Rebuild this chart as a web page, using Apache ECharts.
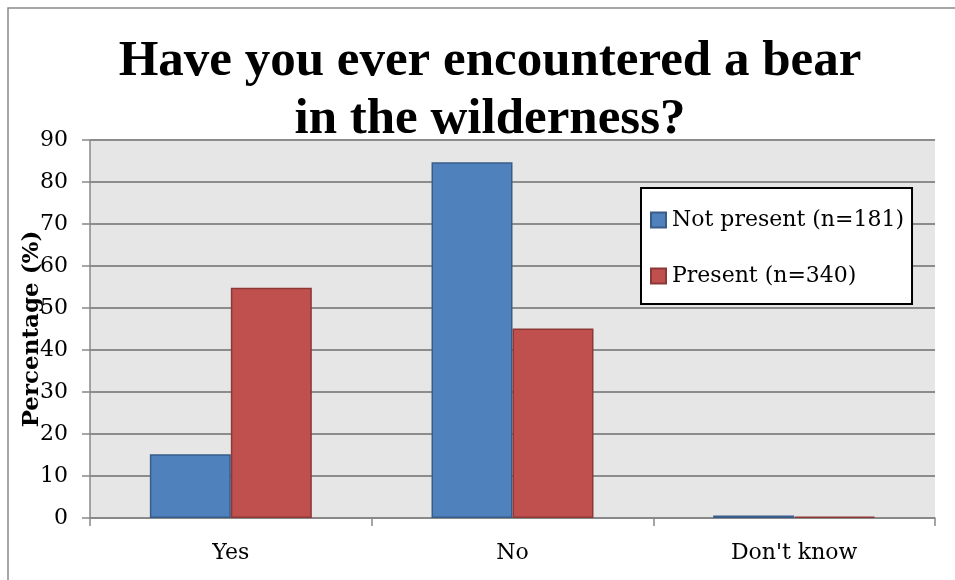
<!DOCTYPE html>
<html>
<head>
<meta charset="utf-8">
<script src="https://cdn.jsdelivr.net/npm/echarts@6/dist/echarts.min.js"></script>
<style>
  html, body { margin: 0; padding: 0; background: #fff; }
  #chart { width: 955px; height: 580px; }
</style>
</head>
<body>
<div id="chart"></div>
<script>
// answers and percentages per group
var answers = ['Yes', 'No', "Don't know"];
var notPresent = [15.2, 84.7, 0.6];   // Not present (n=181)
var present = [54.8, 45.1, 0.3];      // Present (n=340)
var yTicks = [0, 10, 20, 30, 40, 50, 60, 70, 80, 90];

var serif = '"DejaVu Serif", "Liberation Serif", serif';
var titleFont = '"Liberation Serif", serif';

var myChart = echarts.init(document.getElementById('chart'));

var option = {
    animation: false,
    backgroundColor: '#fff',
    title: {
        text: 'Have you ever encountered a bear\nin the wilderness?',
        left: 485,
        top: 28,
        textAlign: 'center',
        textStyle: {
            fontFamily: titleFont,
            fontWeight: 'bold',
            fontSize: 51,
            lineHeight: 58,
            color: '#000'
        }
    },
    graphic: [{
        type: 'rect',
        shape: { x: 8, y: 8, width: 1000, height: 700 },
        style: { fill: 'none', stroke: '#8a8a8a', lineWidth: 1.5 },
        silent: true
    }],
    legend: {
        orient: 'vertical',
        left: 641,
        top: 188,
        padding: [21, 8, 17, 9],
        itemGap: 34,
        itemWidth: 15,
        itemHeight: 15,
        icon: 'rect',
        borderColor: '#000',
        borderWidth: 2,
        borderRadius: 0,
        backgroundColor: '#fff',
        textStyle: { fontFamily: serif, fontSize: 22, color: '#000', padding: [0, 0, 0, 1] },
        data: ['Not present (n=181)', 'Present (n=340)']
    },
    grid: {
        left: 90,
        right: 20,
        top: 140,
        bottom: 62,
        show: true,
        backgroundColor: '#e6e6e6',
        borderWidth: 0
    },
    xAxis: {
        type: 'category',
        data: answers,
        axisLine: { lineStyle: { color: '#888', width: 1.5 } },
        axisTick: { show: true, length: 8, lineStyle: { color: '#888', width: 1.5 } },
        axisLabel: { fontFamily: serif, fontSize: 22, color: '#000', margin: 24 }
    },
    yAxis: {
        type: 'value',
        min: yTicks[0],
        max: yTicks[yTicks.length - 1],
        interval: 10,
        name: 'Percentage (%)',
        nameLocation: 'middle',
        nameGap: 46,
        nameMoveOverlap: false,
        nameTextStyle: { fontFamily: serif, fontSize: 23, fontWeight: 'bold', color: '#000' },
        axisLine: { show: true, lineStyle: { color: '#888', width: 1.5 } },
        axisTick: { show: true, length: 8, lineStyle: { color: '#888', width: 1.5 } },
        axisLabel: { fontFamily: serif, fontSize: 22, color: '#000', margin: 22 },
        splitLine: { lineStyle: { color: '#8c8c8c', width: 2 } }
    },
    series: [{
        name: 'Not present (n=181)',
        type: 'bar',
        data: notPresent,
        barGap: '0%',
        barCategoryGap: '42.5%',
        itemStyle: { color: '#4f81bd', borderColor: '#385d8a', borderWidth: 1.5 }
    }, {
        name: 'Present (n=340)',
        type: 'bar',
        data: present,
        itemStyle: { color: '#c0504d', borderColor: '#8c3836', borderWidth: 1.5 }
    }]
};

myChart.setOption(option);
window.addEventListener('resize', function () {
    myChart.resize();
});
</script>
</body>
</html>
